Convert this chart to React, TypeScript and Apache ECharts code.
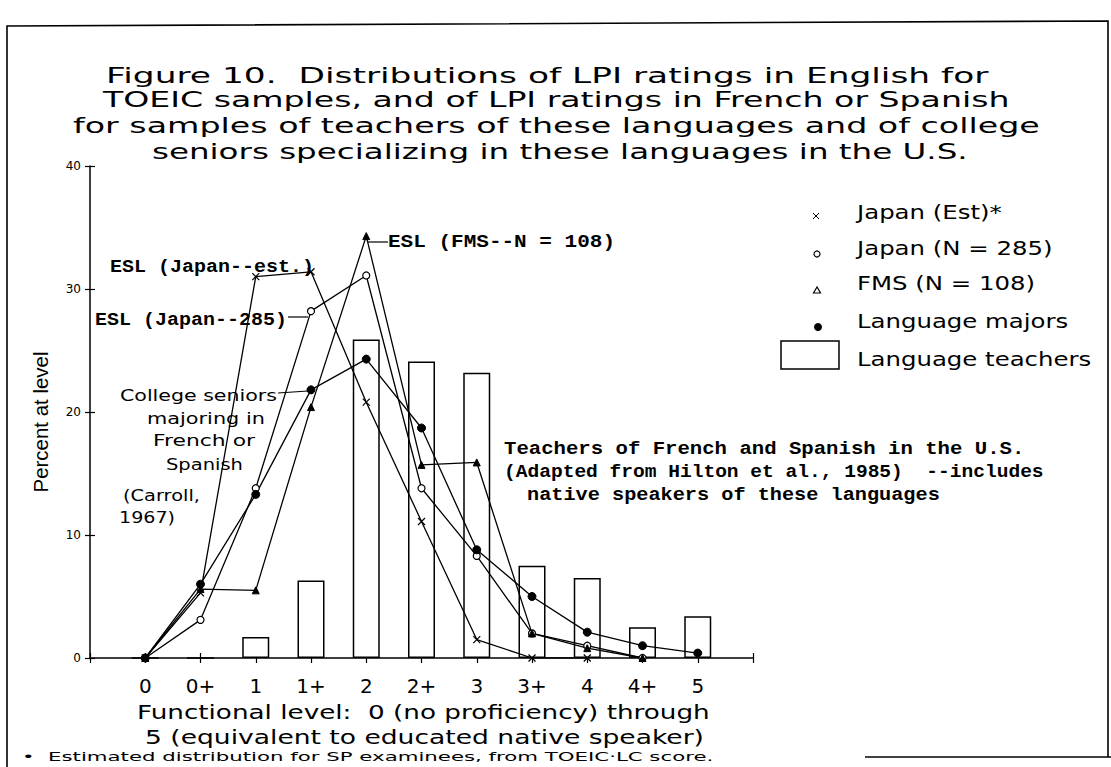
import React, { useEffect, useRef } from "react";
import * as echarts from "echarts";

// ---- data ----
const levels = ["0", "0+", "1", "1+", "2", "2+", "3", "3+", "4", "4+", "5"];
const japanEst = [0, 5.3, 31.0, 31.4, 20.8, 11.1, 1.5, 0, 0, null, null];
const japan285 = [0, 3.1, 13.8, 28.2, 31.1, 13.8, 8.3, 2.0, 1.0, 0, null];
const fms = [0, 5.6, 5.5, 20.4, 34.3, 15.7, 15.9, 2.0, 0.8, 0, null];
const majors = [0, 6.0, 13.3, 21.8, 24.3, 18.7, 8.8, 5.0, 2.1, 1.0, 0.4];
const teachers = [0, 0, 1.7, 6.3, 25.9, 24.1, 23.2, 7.5, 6.5, 2.5, 3.4];
const yMin = 0;
const yMax = 40;
const yStep = 10;

const titleLines = [
  "Figure 10.  Distributions of LPI ratings in English for",
  "TOEIC samples, and of LPI ratings in French or Spanish",
  "for samples of teachers of these languages and of college",
  "seniors specializing in these languages in the U.S.",
];
const legendNames = ["Japan (Est)*", "Japan (N = 285)", "FMS (N = 108)", "Language majors", "Language teachers"];
const xNameLines = ["Functional level:  0 (no proficiency) through", "5 (equivalent to educated native speaker)"];
const footnote = "\u2022  Estimated distribution for SP examinees, from TOEIC\u00b7LC score.";

const SANS = "DejaVu Sans";
const MONO = "Liberation Mono";

let ctx: CanvasRenderingContext2D | null = null;
function measure(text: string, size: number, family: string, weight: string) {
  if (!ctx) ctx = document.createElement("canvas").getContext("2d");
  ctx!.font = `${weight} ${size}px "${family}"`;
  return ctx!.measureText(text).width || 1;
}
function mk(text: string, left: number, cy: number, scaleX: number, size: number, family: string, weight: string) {
  return {
    type: "text",
    x: left,
    y: cy,
    scaleX,
    z: 50,
    style: {
      text,
      fontSize: size,
      fontFamily: family,
      fontWeight: weight,
      fill: "#000",
      textAlign: "left",
      textVerticalAlign: "middle",
      align: "left",
      verticalAlign: "middle",
    },
  };
}
// text stretched to a target width
function txt(text: string, left: number, cy: number, width: number, size: number, family: string, weight = "normal") {
  return mk(text, left, cy, width / measure(text, size, family, weight), size, family, weight);
}
// text with a fixed horizontal stretch
function txs(text: string, left: number, cy: number, scale: number, size: number, family: string, weight = "normal") {
  return mk(text, left, cy, scale, size, family, weight);
}
function seg(x1: number, y1: number, x2: number, y2: number, w = 1.2) {
  return { type: "line", z: 40, shape: { x1, y1, x2, y2 }, style: { stroke: "#000", lineWidth: w } };
}

export default function App() {
  const ref = useRef<HTMLDivElement>(null);
  useEffect(() => {
    const chart = echarts.init(ref.current!, null, { renderer: "svg" });
    const toPairs = (arr: (number | null)[]) =>
      arr.map((v, i) => [i, v]).filter((d) => d[1] !== null);
    const lineBase = {
      type: "line",
      xAxisIndex: 0,
      yAxisIndex: 0,
      lineStyle: { color: "#000", width: 1.3 },
      z: 3,
    };
    const fmt = (v: number) => (Number.isInteger(v) && v >= 0 && v < levels.length ? levels[v] : "");
    const LS = 1.22; // legend stretch
    const yName = "Percent at level";
    const yNameSize = 21;
    const yNameScale = 141 / measure(yName, yNameSize, "Liberation Sans", "normal");

    const graphic: any[] = [
      // frame
      { type: "polyline", z: 40, shape: { points: [[7, 767], [7, 26], [1108, 21], [1108, 757]] }, style: { stroke: "#000", lineWidth: 1.6, fill: "none" } },
      seg(865, 757, 1111, 757, 1.5),
      // title
      txt(titleLines[0], 106, 75, 883, 22, SANS),
      txt(titleLines[1], 103, 100, 907, 22, SANS),
      txt(titleLines[2], 73, 126, 967, 22, SANS),
      txt(titleLines[3], 152, 151, 816, 22, SANS),
      // y axis name
      {
        type: "text", x: 40, y: 422, rotation: Math.PI / 2, z: 50, scaleX: yNameScale,
        style: { text: yName, fontSize: yNameSize, fontFamily: "Liberation Sans", fill: "#000", textAlign: "center", textVerticalAlign: "middle", align: "center", verticalAlign: "middle" },
      },
      // x axis name + footnote
      txt(xNameLines[0], 137, 712, 573, 19, SANS),
      txt(xNameLines[1], 145, 737, 559, 19, SANS),
      txt(footnote, 22, 757, 692, 12, SANS),
      // annotations (typewriter bold)
      txt("ESL (Japan--est.)", 110, 267, 204, 18, MONO, "bold"),
      txt("ESL (Japan--285)", 95, 320, 192, 18, MONO, "bold"),
      seg(288, 317, 308, 317),
      txt("ESL (FMS--N = 108)", 388, 242, 227, 18, MONO, "bold"),
      seg(368, 242, 388, 242),
      txt("Teachers of French and Spanish in the U.S.", 504, 449, 521, 18, MONO, "bold"),
      txt("(Adapted from Hilton et al., 1985)  --includes", 504, 472, 540, 18, MONO, "bold"),
      txt("native speakers of these languages", 527, 495, 413, 18, MONO, "bold"),
      // sans annotations
      txt("College seniors", 120, 395, 157, 16, SANS),
      seg(278, 393, 308, 391),
      txt("majoring in", 147, 418, 118, 16, SANS),
      txt("French or", 153, 441, 102, 16, SANS),
      txt("Spanish", 166, 464, 77, 16, SANS),
      txt("(Carroll,", 123, 496, 77, 16, SANS),
      txt("1967)", 119, 518, 56, 16, SANS),
      // legend
      seg(813, 213, 819, 219, 1), seg(819, 213, 813, 219, 1),
      { type: "circle", z: 40, shape: { cx: 817, cy: 254, r: 3 }, style: { stroke: "#000", fill: "#fff", lineWidth: 1.2 } },
      { type: "polygon", z: 40, shape: { points: [[817, 287], [813.5, 293], [820.5, 293]] }, style: { stroke: "#000", fill: "#fff", lineWidth: 1.2 } },
      { type: "circle", z: 40, shape: { cx: 818, cy: 327, r: 4 }, style: { fill: "#000" } },
      { type: "rect", z: 40, shape: { x: 781, y: 341, width: 58, height: 28 }, style: { stroke: "#000", fill: "#fff", lineWidth: 1.5 } },
      txs(legendNames[0], 857, 212, LS, 20, SANS),
      txs(legendNames[1], 857, 248, LS, 20, SANS),
      txs(legendNames[2], 857, 283, LS, 20, SANS),
      txs(legendNames[3], 857, 321, LS, 20, SANS),
      txs(legendNames[4], 857, 359, LS, 20, SANS),
    ];

    chart.setOption({
      animation: false,
      backgroundColor: "#fff",
      grid: { left: 90, right: 358, top: 166, bottom: 109 },
      xAxis: [
        {
          type: "value", min: -1, max: levels.length, interval: 1, position: "bottom",
          axisLine: { onZero: false, lineStyle: { color: "#000", width: 1.5 } },
          axisTick: { length: 5, lineStyle: { color: "#000", width: 1.2 } },
          axisLabel: { formatter: fmt, fontSize: 20, fontFamily: SANS, color: "#000", margin: 18 },
          splitLine: { show: false },
        },
        {
          type: "value", min: -1, max: levels.length, interval: 1, position: "bottom",
          axisLine: { show: false, onZero: false },
          axisTick: { inside: true, length: 5, lineStyle: { color: "#000", width: 1.2 } },
          axisLabel: { show: false },
          splitLine: { show: false },
        },
      ],
      yAxis: [
        {
          type: "value", min: yMin, max: yMax, interval: yStep, position: "left",
          axisLine: { show: true, onZero: false, lineStyle: { color: "#000", width: 1.5 } },
          axisTick: { show: true, length: 5, lineStyle: { color: "#000", width: 1.2 } },
          axisLabel: { fontSize: 12, fontFamily: SANS, color: "#000", margin: 9 },
          splitLine: { show: false },
        },
        {
          type: "value", min: yMin, max: yMax, interval: yStep, position: "left",
          axisLine: { show: false, onZero: false },
          axisTick: { show: true, inside: true, length: 5, lineStyle: { color: "#000", width: 1.2 } },
          axisLabel: { show: false },
          splitLine: { show: false },
        },
      ],
      series: [
        {
          name: legendNames[4], type: "bar", data: teachers.map((v, i) => [i, v]), barWidth: 27,
          itemStyle: { color: "#fff", borderColor: "#000", borderWidth: 1.5 }, z: 1,
        },
        { ...lineBase, name: legendNames[0], data: toPairs(japanEst), symbol: "path://M0,0L8,8M8,0L0,8", symbolSize: 7, itemStyle: { color: "transparent", borderColor: "#000", borderWidth: 1.2 } },
        { ...lineBase, name: legendNames[1], data: toPairs(japan285), symbol: "circle", symbolSize: 7, itemStyle: { color: "#fff", borderColor: "#000", borderWidth: 1.2 } },
        { ...lineBase, name: legendNames[2], data: toPairs(fms), symbol: "triangle", symbolSize: 7, itemStyle: { color: "#000", borderColor: "#000", borderWidth: 1 } },
        { ...lineBase, name: legendNames[3], data: toPairs(majors), symbol: "circle", symbolSize: 8, itemStyle: { color: "#000", borderColor: "#000", borderWidth: 1 } },
      ],
      graphic,
    });
    return () => chart.dispose();
  }, []);
  return (
    <div
      ref={ref}
      style={{ position: "fixed", left: 0, top: 0, width: 1111, height: 767, background: "#fff" }}
    />
  );
}
